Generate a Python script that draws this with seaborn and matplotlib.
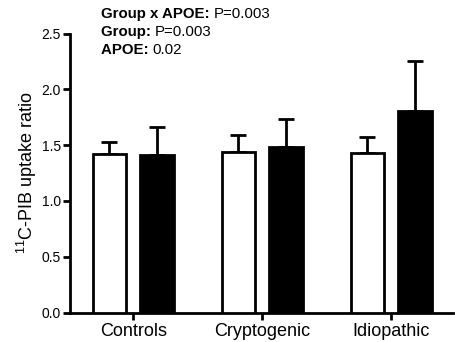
import matplotlib
matplotlib.use("Agg")
import matplotlib.pyplot as plt
import seaborn as sns
import pandas as pd
import numpy as np

groups = ["Controls", "Cryptogenic", "Idiopathic"]
apoe = ["APOE e4-", "APOE e4+"]
means_neg = [1.42, 1.44, 1.43]
means_pos = [1.41, 1.48, 1.81]
err_neg = [0.11, 0.15, 0.145]
err_pos = [0.255, 0.25, 0.445]
stat_labels = ["Group x APOE:", "Group:", "APOE:"]
stat_values = ["P=0.003", "P=0.003", "0.02"]

sns.set_theme(style="ticks")
plt.rcParams["font.family"] = ["Liberation Sans", "DejaVu Sans"]
plt.rcParams["mathtext.fontset"] = "custom"
plt.rcParams["mathtext.rm"] = "Liberation Sans"
for k in ["text.color", "axes.labelcolor", "xtick.color", "ytick.color",
          "xtick.labelcolor", "ytick.labelcolor", "axes.edgecolor"]:
    plt.rcParams[k] = "black"

df = pd.DataFrame({
    "group": groups * 2,
    "apoe": [apoe[0]] * 3 + [apoe[1]] * 3,
    "value": means_neg + means_pos,
})

fig = plt.figure(figsize=(4.56, 3.42), dpi=100)
ax = fig.add_axes([70 / 456, 1 - 312.5 / 342, 383 / 456, 279 / 342])

sns.barplot(data=df, x="group", y="value", hue="apoe", order=groups,
            hue_order=apoe, palette=["white", "black"], edgecolor="black",
            linewidth=2.0, width=0.74, gap=0.3, errorbar=None, legend=False,
            ax=ax, zorder=3)

errs = err_neg + err_pos
vals = means_neg + means_pos
bars = [p for p in ax.patches][:6]
xs = [b.get_x() + b.get_width() / 2 for b in bars]
ax.errorbar(xs, vals, yerr=[np.zeros(6), errs], fmt="none", ecolor="black",
            elinewidth=2.0, capsize=6, capthick=2.0, zorder=2)

ax.set_xlim(-0.49, 2.48)
ax.set_ylim(0, 2.5)
ax.set_yticks([0, 0.5, 1.0, 1.5, 2.0, 2.5])
ax.set_yticklabels(["0.0", "0.5", "1.0", "1.5", "2.0", "2.5"], fontsize=10)
ax.set_xticks(range(3))
ax.set_xticklabels(groups, fontsize=13)
ax.set_xlabel("")
ax.set_ylabel(r"$\mathregular{^{11}}$C-PIB uptake ratio", fontsize=13, labelpad=2)
ax.tick_params(axis="both", width=2, length=5, color="black", pad=1.5)
ax.tick_params(axis="x", pad=2.5)
for s in ["left", "bottom"]:
    ax.spines[s].set_linewidth(2)
    ax.spines[s].set_color("black")
sns.despine(ax=ax)

for i, (lab, val) in enumerate(zip(stat_labels, stat_values)):
    y = 1 - (18 + 18 * i) / 342
    t = fig.text(101 / 456, y, lab + " ", fontsize=10.8, fontweight="bold",
                 va="baseline", ha="left", color="black")
    ax.annotate(val, xy=(1, 0), xycoords=t, va="bottom", ha="left",
                fontsize=10.8, color="black", annotation_clip=False)

fig.savefig("out.png", dpi=100)
